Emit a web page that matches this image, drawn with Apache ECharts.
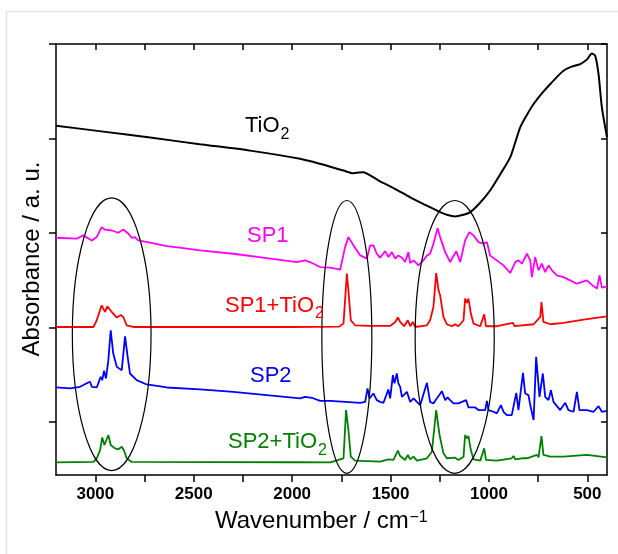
<!DOCTYPE html>
<html>
<head>
<meta charset="utf-8">
<script src="https://cdn.jsdelivr.net/npm/echarts@6/dist/echarts.min.js"></script>
<style>
html,body{margin:0;padding:0;background:#fff;}
#c{width:618px;height:554px;}
</style>
</head>
<body>
<div id="c"></div>
<script>
// ---------- data ----------
const xTickValues = [500, 750, 1000, 1250, 1500, 1750, 2000, 2250, 2500, 2750, 3000];
const xLabelValues = [500, 1000, 1500, 2000, 2500, 3000];
const yTickValues = [0, 1, 2, 3, 4];

const seriesNames = ['TiO2', 'SP1', 'SP1+TiO2', 'SP2', 'SP2+TiO2'];

const tio2Wn = [3200, 2960, 2722, 2470, 2214, 1960, 1850, 1739, 1689, 1660, 1638, 1600, 1560, 1480, 1400, 1320, 1248, 1210, 1172, 1135, 1095, 1045, 994, 943, 892, 866, 841, 807, 773, 730, 688, 655, 621, 580, 536, 500, 477, 460, 443, 426, 400];
const tio2Abs = [3.136, 3.073, 3.010, 2.940, 2.872, 2.785, 2.727, 2.661, 2.632, 2.640, 2.643, 2.605, 2.555, 2.470, 2.378, 2.295, 2.221, 2.190, 2.175, 2.190, 2.221, 2.320, 2.450, 2.620, 2.801, 2.960, 3.118, 3.250, 3.365, 3.480, 3.577, 3.650, 3.717, 3.760, 3.788, 3.840, 3.900, 3.875, 3.682, 3.329, 3.013];

const sp1Wn = [3200, 3095, 3061, 3018, 2993, 2968, 2951, 2917, 2883, 2858, 2832, 2815, 2798, 2782, 2722, 2637, 2553, 2468, 2299, 2129, 1976, 1934, 1909, 1858, 1807, 1756, 1731, 1714, 1688, 1654, 1620, 1604, 1587, 1570, 1553, 1527, 1511, 1493, 1476, 1460, 1442, 1426, 1409, 1400, 1383, 1358, 1333, 1315, 1299, 1282, 1261, 1248, 1222, 1197, 1166, 1146, 1121, 1099, 1078, 1053, 1028, 1010, 994, 960, 926, 892, 866, 850, 832, 807, 790, 782, 765, 748, 731, 714, 697, 680, 655, 621, 587, 553, 502, 468, 451, 438, 426, 400];
const sp1Abs = [1.950, 1.940, 1.975, 1.922, 1.957, 2.062, 2.035, 2.027, 2.003, 2.038, 1.993, 1.950, 1.957, 1.922, 1.898, 1.862, 1.841, 1.816, 1.781, 1.735, 1.693, 1.711, 1.693, 1.640, 1.633, 1.612, 1.851, 1.957, 1.869, 1.763, 1.729, 1.869, 1.869, 1.781, 1.739, 1.809, 1.746, 1.798, 1.729, 1.763, 1.739, 1.693, 1.798, 1.682, 1.711, 1.658, 1.711, 1.763, 1.781, 1.887, 2.052, 1.957, 1.798, 1.693, 1.809, 1.693, 1.922, 2.010, 1.975, 1.904, 1.887, 1.904, 1.763, 1.711, 1.658, 1.577, 1.693, 1.711, 1.676, 1.781, 1.711, 1.534, 1.746, 1.605, 1.676, 1.587, 1.658, 1.605, 1.552, 1.534, 1.499, 1.464, 1.499, 1.436, 1.412, 1.552, 1.422, 1.436];

const sp1TiWn = [3200, 3010, 2993, 2968, 2951, 2939, 2917, 2891, 2871, 2858, 2841, 2807, 2400, 2000, 1760, 1739, 1722, 1714, 1702, 1680, 1604, 1595, 1502, 1476, 1463, 1451, 1431, 1412, 1400, 1387, 1375, 1315, 1299, 1282, 1268, 1256, 1248, 1231, 1214, 1188, 1172, 1155, 1129, 1121, 1112, 1104, 1092, 1078, 1044, 1024, 1015, 960, 878, 870, 773, 739, 733, 723, 688, 621, 519, 400];
const sp1TiAbs = [1.006, 1.006, 1.077, 1.235, 1.165, 1.225, 1.165, 1.106, 1.133, 1.112, 1.024, 1.006, 1.006, 1.006, 1.010, 1.042, 1.570, 1.394, 1.077, 1.024, 1.017, 1.031, 1.017, 1.059, 1.106, 1.059, 1.014, 1.077, 1.014, 1.059, 1.006, 1.024, 1.077, 1.218, 1.577, 1.394, 1.341, 1.112, 1.035, 1.014, 1.035, 1.014, 1.077, 1.306, 1.260, 1.306, 1.148, 1.042, 1.014, 1.140, 1.014, 1.014, 1.049, 1.014, 1.035, 1.112, 1.270, 1.059, 1.035, 1.049, 1.084, 1.119];

const sp2Wn = [3200, 3129, 3078, 3053, 3044, 3027, 3018, 2993, 2973, 2965, 2956, 2946, 2934, 2922, 2909, 2891, 2866, 2849, 2836, 2824, 2790, 2739, 2637, 2468, 2299, 2129, 1960, 1934, 1900, 1858, 1807, 1654, 1629, 1617, 1607, 1587, 1570, 1553, 1536, 1511, 1502, 1488, 1480, 1468, 1460, 1451, 1442, 1417, 1400, 1383, 1366, 1349, 1315, 1299, 1282, 1273, 1239, 1222, 1210, 1197, 1180, 1155, 1146, 1116, 1104, 1070, 1053, 1019, 1010, 1002, 977, 960, 939, 926, 909, 884, 861, 850, 827, 816, 799, 790, 773, 760, 743, 726, 714, 697, 685, 672, 638, 612, 596, 570, 553, 540, 502, 468, 443, 426, 400];
const sp2Abs = [0.366, 0.356, 0.373, 0.401, 0.380, 0.426, 0.373, 0.366, 0.478, 0.444, 0.542, 0.461, 0.655, 0.971, 0.725, 0.584, 0.549, 0.908, 0.690, 0.514, 0.444, 0.398, 0.366, 0.345, 0.320, 0.285, 0.250, 0.267, 0.257, 0.225, 0.225, 0.204, 0.214, 0.356, 0.250, 0.303, 0.232, 0.214, 0.204, 0.345, 0.250, 0.496, 0.409, 0.514, 0.409, 0.373, 0.267, 0.320, 0.214, 0.250, 0.214, 0.180, 0.415, 0.214, 0.197, 0.225, 0.327, 0.232, 0.261, 0.232, 0.197, 0.197, 0.180, 0.232, 0.155, 0.155, 0.127, 0.127, 0.225, 0.127, 0.109, 0.092, 0.180, 0.109, 0.074, 0.074, 0.309, 0.127, 0.521, 0.303, 0.285, 0.180, 0.021, 0.690, 0.267, 0.514, 0.267, 0.232, 0.338, 0.214, 0.127, 0.204, 0.127, 0.109, 0.320, 0.127, 0.127, 0.109, 0.169, 0.109, 0.119];

const sp2TiWn = [3200, 3010, 2993, 2976, 2965, 2954, 2934, 2922, 2900, 2883, 2866, 2854, 2841, 2815, 2400, 2000, 1807, 1739, 1726, 1714, 1702, 1680, 1553, 1511, 1485, 1463, 1451, 1426, 1412, 1400, 1383, 1366, 1315, 1290, 1268, 1251, 1243, 1231, 1214, 1172, 1155, 1129, 1121, 1112, 1104, 1092, 1078, 1044, 1024, 1015, 960, 884, 875, 866, 832, 824, 807, 756, 748, 733, 723, 688, 621, 502, 400];
const sp2TiAbs = [-0.426, -0.422, -0.383, -0.296, -0.162, -0.243, -0.137, -0.243, -0.278, -0.288, -0.261, -0.303, -0.383, -0.422, -0.424, -0.425, -0.426, -0.383, 0.127, -0.084, -0.366, -0.408, -0.419, -0.394, -0.401, -0.303, -0.359, -0.401, -0.348, -0.394, -0.366, -0.408, -0.383, -0.314, 0.127, -0.137, -0.148, -0.331, -0.383, -0.377, -0.401, -0.366, -0.137, -0.172, -0.148, -0.296, -0.394, -0.408, -0.278, -0.401, -0.408, -0.383, -0.359, -0.394, -0.383, -0.366, -0.383, -0.348, -0.373, -0.148, -0.348, -0.366, -0.366, -0.348, -0.373];

// ellipse annotations (data units)
const ellipseCenterWn = [2917, 1722, 1174];
const ellipseHalfWidthWn = [200, 127, 201];
const ellipseTopAbs = [2.373, 2.344, 2.344];
const ellipseBottomAbs = [-0.514, -0.542, -0.542];

// ---------- chart ----------
const FONT = "'Liberation Sans', Arial, sans-serif";
const zip = (a, b) => a.map((v, i) => [v, b[i]]);
const chart = echarts.init(document.getElementById('c'), null, {renderer: 'canvas'});

const axisLineStyle = {color: '#000', width: 1.5};
function xAx(pos, inside, len, showLabel) {
  return {
    type: 'value', position: pos, min: 400, max: 3200, inverse: true,
    axisLine: {show: true, onZero: false, lineStyle: axisLineStyle},
    axisTick: {show: true, inside: inside, length: len, lineStyle: axisLineStyle, customValues: xTickValues},
    axisLabel: {show: showLabel, customValues: xLabelValues, formatter: v => String(v), color: '#000', fontWeight: 'bold', fontSize: 17, fontFamily: FONT, margin: 11},
    splitLine: {show: false}
  };
}
function yAx(pos, inside, len) {
  return {
    type: 'value', position: pos, min: -0.56, max: 4,
    axisLine: {show: true, onZero: false, lineStyle: axisLineStyle},
    axisTick: {show: true, inside: inside, length: len, lineStyle: axisLineStyle, customValues: yTickValues},
    axisLabel: {show: false, customValues: yTickValues},
    splitLine: {show: false}
  };
}
function line(name, wn, ab, color, width, smooth) {
  return {
    name: name, type: 'line', xAxisIndex: 0, yAxisIndex: 0,
    data: zip(wn, ab), showSymbol: false, symbol: 'none', smooth: smooth || false,
    lineStyle: {color: color, width: width}, itemStyle: {color: color},
    silent: true, animation: false
  };
}

chart.setOption({
  animation: false,
  backgroundColor: '#fff',
  grid: {left: 56, right: 11, top: 44, bottom: 79, containLabel: false},
  xAxis: [xAx('bottom', false, 7, true), xAx('top', true, 6, false)],
  yAxis: [yAx('left', false, 7), yAx('right', true, 6)],
  series: [
    line(seriesNames[0], tio2Wn, tio2Abs, '#000000', 2, 0.25),
    line(seriesNames[1], sp1Wn, sp1Abs, '#ff00ff', 1.8),
    line(seriesNames[2], sp1TiWn, sp1TiAbs, '#ff0000', 1.8),
    line(seriesNames[3], sp2Wn, sp2Abs, '#0000ff', 1.8),
    line(seriesNames[4], sp2TiWn, sp2TiAbs, '#008000', 1.8)
  ]
});

// annotations
const g = [];
// outer light frame
g.push({type: 'polyline', shape: {points: [[6.5, 560], [6.5, 11.5], [630, 11.5]]}, style: {stroke: '#e3e3e3', lineWidth: 1.5, fill: 'none'}, z: 1});
for (let i = 0; i < ellipseCenterWn.length; i++) {
  const c = chart.convertToPixel({xAxisIndex: 0, yAxisIndex: 0}, [ellipseCenterWn[i], ellipseTopAbs[i]]);
  const e = chart.convertToPixel({xAxisIndex: 0, yAxisIndex: 0}, [ellipseCenterWn[i] - ellipseHalfWidthWn[i], ellipseBottomAbs[i]]);
  g.push({type: 'ellipse', shape: {cx: c[0], cy: (c[1] + e[1]) / 2, rx: Math.abs(e[0] - c[0]), ry: Math.abs(e[1] - c[1]) / 2},
    style: {fill: 'none', stroke: '#000', lineWidth: 1.2}, z: 50});
}
function txt(text, x, y, size, color, extra) {
  return Object.assign({type: 'text', x: x, y: y, z: 60,
    style: {text: text, fill: color, font: size + 'px ' + FONT, align: 'left', verticalAlign: 'middle', textAlign: 'left', textVerticalAlign: 'middle'}}, extra || {});
}
// series labels (main text + subscript)
g.push(txt('Ti' + 'O', 245, 126.4, 22, '#000'));
g.push(txt('2', 280.4, 134.5, 16, '#000'));
g.push(txt('SP1', 247, 235.9, 22, '#ff00ff'));
g.push(txt('SP1+TiO', 225, 305.9, 22, '#ff0000'));
g.push(txt('2', 314.9, 314, 16, '#ff0000'));
g.push(txt('SP2', 250, 375.9, 22, '#0000ff'));
g.push(txt('SP2+TiO', 228, 442.4, 22, '#008000'));
g.push(txt('2', 317.9, 450.5, 16, '#008000'));
// axis titles
g.push(txt('Wavenumber / cm', 215, 521.7, 24, '#000'));
g.push(txt('\u22121', 409.5, 517.5, 16, '#000'));
g.push({type: 'text', x: 32.5, y: 259, rotation: Math.PI / 2, z: 60,
  style: {text: 'Absorbance / a. u.', fill: '#000', font: '24px ' + FONT, align: 'center', verticalAlign: 'middle', textAlign: 'center', textVerticalAlign: 'middle'}});
chart.setOption({graphic: g});
</script>
</body>
</html>
